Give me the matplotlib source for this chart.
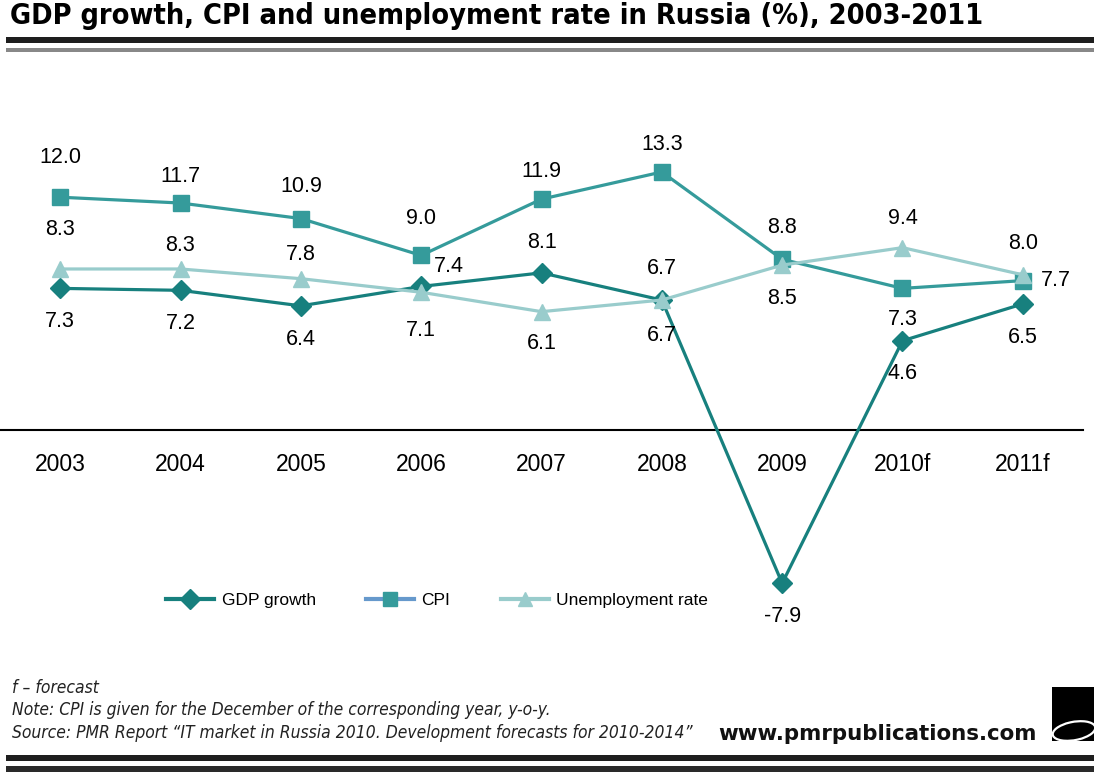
import matplotlib
matplotlib.use("Agg")
import matplotlib.pyplot as plt
from matplotlib.lines import Line2D
from matplotlib.patches import Rectangle, Ellipse

# ---- data ----
years = ["2003", "2004", "2005", "2006", "2007", "2008", "2009", "2010f", "2011f"]
gdp = [7.3, 7.2, 6.4, 7.4, 8.1, 6.7, -7.9, 4.6, 6.5]
cpi = [12.0, 11.7, 10.9, 9.0, 11.9, 13.3, 8.8, 7.3, 7.7]
unemp = [8.3, 8.3, 7.8, 7.1, 6.1, 6.7, 8.5, 9.4, 8.0]

# label offsets in pixels (layout only)
cpi_off = [(0, 40), (0, 27), (0, 32), (0, 37), (0, 28), (0, 27), (0, 32), (0, -31), (33, 0)]
unemp_off = [(0, 39), (0, 23), (0, 24), (0, -38), (0, -32), (0, 32), (0, -33), (0, 29), (0, 31)]
gdp_off = [(0, -33), (0, -33), (0, -34), (28, 20), (0, 30), (0, -35), (0, -33), (0, -33), (0, -34)]

C_GDP = "#17807E"
C_CPI = "#359B9B"
C_UNE = "#99CCCC"
C_CPI_LEG = "#6699CC"

W, H = 1094, 773
fig = plt.figure(figsize=(W / 100, H / 100), dpi=100)
plt.rcParams['font.family'] = ['Liberation Sans', 'DejaVu Sans']

ylo, yhi = -10, 16
pix_per = 19.4
y0 = 430
bot = y0 + (-ylo) * pix_per
top = y0 - yhi * pix_per
ax = fig.add_axes([0, 1 - bot / H, 1083 / W, (bot - top) / H])
ax.set_xlim(-0.5, len(years) - 0.5)
ax.set_ylim(ylo, yhi)
ax.patch.set_alpha(0)

x = list(range(len(years)))
ax.plot(x, gdp, color=C_GDP, lw=2.3, marker='D', ms=10.5, zorder=3)
ax.plot(x, cpi, color=C_CPI, lw=2.3, marker='s', ms=12, zorder=4)
ax.plot(x, unemp, color=C_UNE, lw=2.3, marker='^', ms=11.5, zorder=5)

for series, offs in ((cpi, cpi_off), (unemp, unemp_off), (gdp, gdp_off)):
    for i, v in enumerate(series):
        ax.annotate(f"{v:.1f}", (i, v), xytext=offs[i], textcoords='offset pixels',
                    ha='center', va='center', fontsize=15.5, color='black', zorder=6)

for s in ['top', 'right', 'left']:
    ax.spines[s].set_visible(False)
ax.spines['bottom'].set_position(('data', 0))
ax.spines['bottom'].set_linewidth(1.5)
ax.spines['bottom'].set_color('black')
ax.set_yticks([])
ax.set_xticks(x)
ax.set_xticklabels(years, fontsize=16.5)
ax.tick_params(axis='x', length=0, pad=16.5)

# legend
handles = [
    Line2D([], [], color=C_GDP, lw=3, marker='D', ms=10, markerfacecolor=C_GDP, markeredgecolor=C_GDP),
    Line2D([], [], color=C_CPI_LEG, lw=3, marker='s', ms=10, markerfacecolor=C_CPI, markeredgecolor=C_CPI),
    Line2D([], [], color=C_UNE, lw=3, marker='^', ms=10, markerfacecolor=C_UNE, markeredgecolor=C_UNE),
]
fig.legend(handles, ["GDP growth", "CPI", "Unemployment rate"], ncol=3, frameon=False,
           loc='center left', bbox_to_anchor=(166 / W, 1 - 600 / H), fontsize=12.5,
           handlelength=2.75, handletextpad=0.45, columnspacing=2.9, borderpad=0, borderaxespad=0)

# title
title = fig.text(10 / W, 1 - 16 / H, "GDP growth, CPI and unemployment rate in Russia (%), 2003-2011",
                 fontsize=21, fontweight='bold', fontstretch='condensed',
                 family=['DejaVu Sans'], ha='left', va='center', color='black')

# rules
def hrule(y1, y2, color, x1=6):
    fig.add_artist(Rectangle((x1 / W, 1 - y2 / H), (W - x1) / W, (y2 - y1) / H,
                             transform=fig.transFigure, color=color, lw=0))

hrule(37, 43, "#1e1e1e")
hrule(48, 52, "#888888")
hrule(755, 761, "#1e1e1e")
hrule(766, 772, "#2a2a2a")

# footer
foot_kw = dict(fontsize=12, style='italic', fontstretch='condensed', family=['DejaVu Sans'],
               ha='left', va='center', color='#222222')
f1 = fig.text(12 / W, 1 - 688 / H, "f – forecast", **foot_kw)
f2 = fig.text(12 / W, 1 - 710 / H, "Note: CPI is given for the December of the corresponding year, y-o-y.", **foot_kw)
f3 = fig.text(12 / W, 1 - 733 / H, "Source: PMR Report \u201cIT market in Russia 2010. Development forecasts for 2010-2014\u201d", **foot_kw)
url = fig.text(1037 / W, 1 - 734 / H, "www.pmrpublications.com", fontsize=14.5, fontweight='bold',
               family=['DejaVu Sans'], ha='right', va='center', color='#111111')

# fit widths of condensed texts to the reference widths
fig.canvas.draw()
r = fig.canvas.get_renderer()
tw = title.get_window_extent(r).width
title.set_fontsize(21 * 975 / tw)
sw = f3.get_window_extent(r).width
fs = 12 * 678 / sw
for t in (f1, f2, f3):
    t.set_fontsize(fs)
uw = url.get_window_extent(r).width
url.set_fontsize(14.5 * 320 / uw)

# logo
fig.add_artist(Rectangle((1052 / W, 1 - 741 / H), 42 / W, 54 / H, transform=fig.transFigure,
                         color='black', lw=0))
fig.add_artist(Ellipse((1074 / W, 1 - 731 / H), 44 / W, 18 / H, angle=18, transform=fig.transFigure,
                       facecolor='black', edgecolor='white', lw=1.6))

fig.savefig("out.png", dpi=100)
